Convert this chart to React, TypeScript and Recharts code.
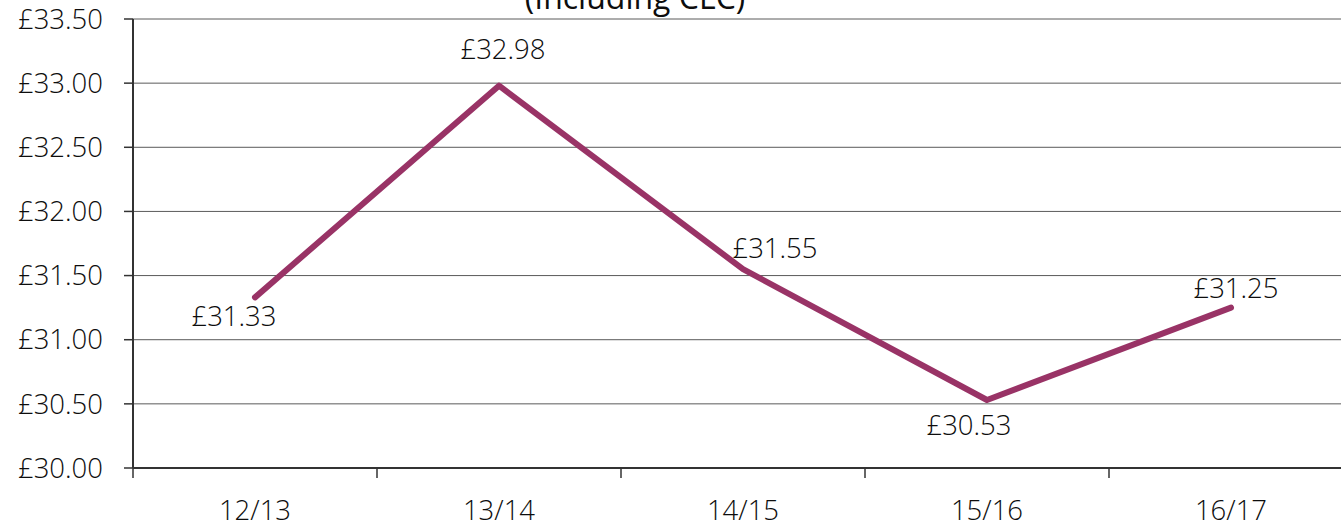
import { LineChart, Line, CartesianGrid, XAxis, YAxis, LabelList } from "recharts";

const categories = ["12/13", "13/14", "14/15", "15/16", "16/17"];
const costs = [31.33, 32.98, 31.55, 30.53, 31.25];
const yTicks = [30, 30.5, 31, 31.5, 32, 32.5, 33, 33.5];
const title = "(Including CLC)";

const FONT = "'Open Sans', sans-serif";
const TEXT = "#0d0d0d";
const WEIGHT = 300;

// where each value label sits relative to its point (Excel placed these by hand)
const labelNudge = [
  { dx: -21, dy: 18 },
  { dx: 4, dy: -37 },
  { dx: 32, dy: -22 },
  { dx: -18, dy: 24 },
  { dx: 5, dy: -20 },
];

const data = categories.map((label, i) => ({ i, label, cost: costs[i] }));

// band edges get a tick mark, band centres get the category name
const xTicks = categories.flatMap((_, i) => [i - 0.5, i]).concat(categories.length - 0.5);

const XTick = ({ x, y, payload }) => {
  const v = payload.value;
  if (Number.isInteger(v)) {
    return (
      <text x={x} y={y + 41} textAnchor="middle" dominantBaseline="central" fill={TEXT} fontSize={27.5} fontFamily={FONT} fontWeight={WEIGHT}>
        {categories[v]}
      </text>
    );
  }
  return <line x1={x} y1={y} x2={x} y2={y + 10} stroke="#333" strokeWidth={1.5} />;
};

const ValueLabel = ({ x, y, value, index }) => {
  const n = labelNudge[index] || { dx: 0, dy: -20 };
  return (
    <text x={x + n.dx} y={y + n.dy} textAnchor="middle" dominantBaseline="central" fill={TEXT} fontSize={27.5} fontFamily={FONT} fontWeight={WEIGHT}>
      £{Number(value).toFixed(2)}
    </text>
  );
};

export default function App() {
  return (
    <div style={{ position: "absolute", left: 0, top: 0, width: 1341, height: 524, overflow: "hidden", background: "#fff" }}>
      <div
        style={{
          position: "absolute",
          left: 0,
          top: -25,
          width: 1270,
          textAlign: "center",
          fontFamily: FONT,
          fontSize: 32,
          lineHeight: "44px",
          color: TEXT,
        }}
      >
        {title}
      </div>
      <LineChart width={1360} height={524} data={data} margin={{ top: 19, right: 7, bottom: 0, left: 8 }}>
        <CartesianGrid vertical={false} stroke="#5a5a5a" strokeWidth={1} />
        <XAxis
          dataKey="i"
          type="number"
          domain={[-0.5, categories.length - 0.5]}
          ticks={xTicks}
          interval={0}
          tickLine={false}
          tickSize={0}
          tickMargin={0}
          height={56}
          axisLine={{ stroke: "#333", strokeWidth: 2 }}
          tick={<XTick />}
        />
        <YAxis
          domain={[30, 33.5]}
          ticks={yTicks}
          interval={0}
          width={125}
          tickSize={9}
          tickMargin={21}
          tickFormatter={(v) => `£${v.toFixed(2)}`}
          axisLine={{ stroke: "#333", strokeWidth: 2 }}
          tickLine={{ stroke: "#333", strokeWidth: 1.5 }}
          tick={{ fill: TEXT, fontSize: 27.5, fontFamily: FONT, fontWeight: WEIGHT }}
        />
        <Line
          type="linear"
          dataKey="cost"
          stroke="#993366"
          strokeWidth={6}
          strokeLinecap="round"
          strokeLinejoin="round"
          dot={false}
          activeDot={false}
          isAnimationActive={false}
        >
          <LabelList dataKey="cost" content={<ValueLabel />} />
        </Line>
      </LineChart>
    </div>
  );
}
